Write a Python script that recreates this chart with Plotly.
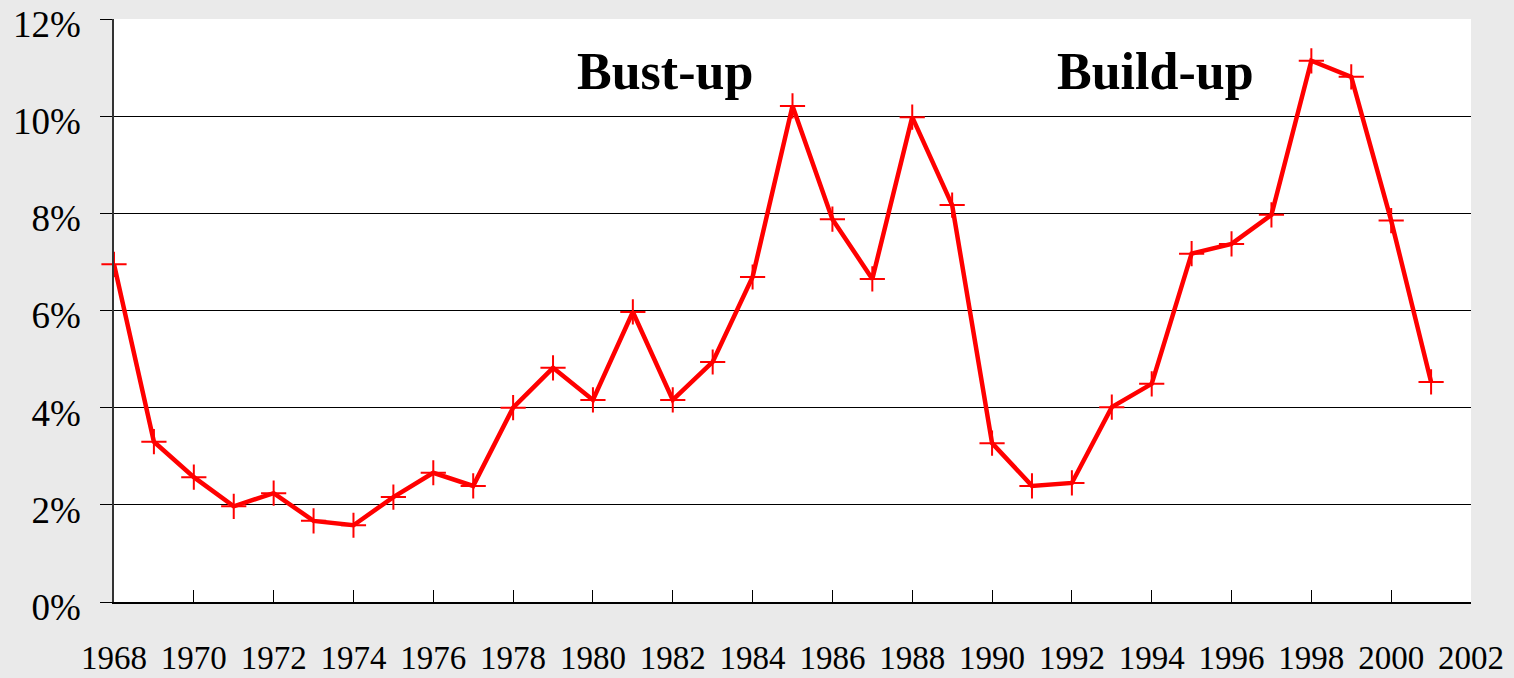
import plotly.graph_objects as go

years = list(range(1968, 2002))
values = [6.95, 3.3, 2.57, 1.97, 2.24, 1.67, 1.58, 2.16, 2.66, 2.39,
          4.0, 4.82, 4.16, 5.97, 4.16, 4.94, 6.69, 10.21, 7.88, 6.65,
          9.98, 8.17, 3.27, 2.39, 2.45, 4.01, 4.49, 7.17, 7.37, 7.97,
          11.14, 10.81, 7.85, 4.53]
x_ticks = list(range(1968, 2003, 2))
y_ticks = [0, 2, 4, 6, 8, 10, 12]
labels = ["Bust-up", "Build-up"]
label_x = [1981.8, 1994.1]
label_y = [10.92, 10.92]

serif = "Liberation Serif, Times New Roman, serif"

fig = go.Figure()
fig.add_trace(go.Scatter(
    x=years, y=values, mode="lines+markers",
    line=dict(color="#ff0000", width=4.5),
    marker=dict(symbol="cross-thin-open", size=18, color="#ff0000",
                line=dict(color="#ff0000", width=2)),
    showlegend=False, cliponaxis=False,
))

for t, xx, yy in zip(labels, label_x, label_y):
    fig.add_annotation(x=xx, y=yy, text="<b>%s</b>" % t, showarrow=False,
                       font=dict(family=serif, size=52, color="black"),
                       xanchor="center", yanchor="middle")

fig.update_layout(
    template="none",
    width=1514, height=678,
    margin=dict(l=114, r=43, t=19, b=76, autoexpand=False),
    paper_bgcolor="#eaeaea", plot_bgcolor="white",
    font=dict(family=serif, color="black"),
)
fig.update_xaxes(
    range=[1968, 2002], tickmode="array", tickvals=x_ticks,
    ticktext=[str(v) for v in x_ticks],
    ticks="inside", ticklen=12, tickwidth=1, tickcolor="black",
    showgrid=False, zeroline=False, automargin=False,
    showline=True, linecolor="black", linewidth=2,
    tickfont=dict(family=serif, size=33, color="black"),
    ticklabelstandoff=25, ticklabeloverflow="allow",
)
fig.update_yaxes(
    range=[0, 12], tickmode="array", tickvals=y_ticks,
    ticktext=["%d%%" % v for v in y_ticks],
    ticks="outside", ticklen=12, tickwidth=1, tickcolor="black",
    showgrid=True, gridcolor="black", gridwidth=1, zeroline=False,
    automargin=False,
    showline=True, linecolor="#333333", linewidth=1.5,
    tickfont=dict(family=serif, size=37, color="black"),
    ticklabelstandoff=12, ticklabelshift=5, ticklabeloverflow="allow",
)

fig.write_html(
    "out.html",
    config={"displayModeBar": False},
    post_script="document.body.style.margin='0';document.body.style.background='#eaeaea';",
)
